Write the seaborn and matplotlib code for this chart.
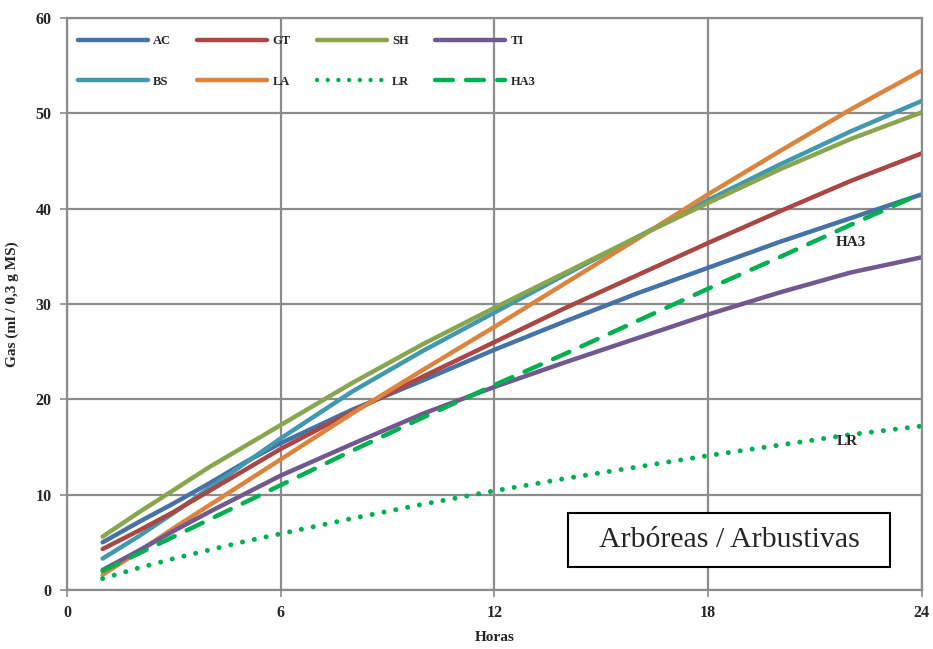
import matplotlib
matplotlib.use("Agg")
import matplotlib.pyplot as plt
import seaborn as sns
import pandas as pd
from matplotlib.patches import Rectangle

hours = [1, 2, 3, 4, 5, 6, 8, 10, 12, 14, 16, 18, 20, 22, 24]
AC = [5.0, 7.1, 9.1, 11.2, 13.4, 15.4, 18.9, 22.0, 25.2, 28.2, 31.1, 33.8, 36.5, 39.0, 41.5]
GT = [4.3, 6.2, 8.2, 10.4, 12.6, 14.8, 18.7, 22.4, 26.0, 29.6, 33.0, 36.4, 39.7, 42.9, 45.8]
SH = [5.6, 8.1, 10.5, 12.9, 15.1, 17.3, 21.7, 25.8, 29.6, 33.3, 37.0, 40.6, 44.1, 47.3, 50.1]
TI = [2.1, 4.1, 6.2, 8.2, 10.1, 12.0, 15.3, 18.5, 21.3, 23.9, 26.4, 28.9, 31.2, 33.3, 34.9]
BS = [3.3, 5.6, 8.1, 10.7, 13.3, 15.9, 20.8, 25.1, 29.1, 33.1, 37.0, 40.9, 44.6, 48.1, 51.3]
LA = [1.6, 4.0, 6.5, 8.9, 11.3, 13.7, 18.5, 23.1, 27.6, 32.2, 36.8, 41.5, 46.0, 50.4, 54.5]
LR = [1.2, 2.3, 3.3, 4.2, 5.1, 5.9, 7.5, 9.0, 10.4, 11.7, 12.9, 14.1, 15.2, 16.3, 17.2]
HA3 = [2.0, 3.8, 5.6, 7.4, 9.2, 11.0, 14.6, 18.1, 21.5, 24.8, 28.2, 31.6, 34.9, 38.3, 41.6]

# legend order fills column-wise with ncol=4
series_order = ["AC", "BS", "GT", "LA", "SH", "LR", "TI", "HA3"]
series = {"AC": AC, "GT": GT, "SH": SH, "TI": TI, "BS": BS, "LA": LA, "LR": LR, "HA3": HA3}
colors = {"AC": "#4572A7", "GT": "#AA4643", "SH": "#89A54E", "TI": "#71588F",
          "BS": "#4198AF", "LA": "#DB843D", "LR": "#00B050", "HA3": "#00B050"}
styles = {"LR": (0, (0.01, 2.4)), "HA3": (0, (4.0, 3.0))}

x_ticks = [0, 6, 12, 18, 24]
y_ticks = [0, 10, 20, 30, 40, 50, 60]

df = pd.concat([pd.DataFrame({"Horas": hours, "Gas": series[k], "serie": k}) for k in series_order],
               ignore_index=True)

sns.set_theme(style="white")
plt.rcParams['font.family'] = ['Liberation Serif', 'DejaVu Serif']

fig = plt.figure(figsize=(9.33, 6.49), dpi=100)
ax = fig.add_axes([0.0718, 0.0909, 0.9162, 0.8814])

for k in series_order:
    sub = df[df["serie"] == k]
    lw = 3.6 if k == "LR" else 3.2
    sns.lineplot(data=sub, x="Horas", y="Gas", ax=ax, color=colors[k], lw=lw,
                 label=k, linestyle=styles.get(k, "-"), dash_capstyle="round",
                 solid_capstyle="round", solid_joinstyle="round")

ax.set_xlim(0, 24)
ax.set_ylim(0, 60)
ax.set_xticks(x_ticks)
ax.set_yticks(y_ticks)
ax.grid(True, color="#8c8c8c", lw=1.6)
ax.set_axisbelow(True)
for s in ax.spines.values():
    s.set_color("#8c8c8c")
    s.set_linewidth(1.6)
ax.tick_params(axis="both", direction="out", length=5, width=1.2, color="#8c8c8c",
               labelsize=11.5, pad=6)
for lab in ax.get_xticklabels() + ax.get_yticklabels():
    lab.set_fontweight("bold")
ax.xaxis.set_ticks_position("bottom")
ax.yaxis.set_ticks_position("left")

ax.set_xlabel("Horas", fontsize=11, fontweight="bold", labelpad=7)
ax.set_ylabel("Gas (ml / 0,3 g MS)", fontsize=11, fontweight="bold", labelpad=12)

leg = ax.legend(loc="upper left", ncol=4, frameon=False, handlelength=5.6,
                handletextpad=0.4, columnspacing=2.1, labelspacing=2.3,
                prop={"weight": "bold", "size": 9}, bbox_to_anchor=(0.0, 0.99),
                borderaxespad=0.5)
for line in leg.get_lines():
    line.set_linewidth(3.2)

ax.text(22.0, 36.4, "HA3", fontsize=11, fontweight="bold", ha="center", va="center")
ax.text(21.9, 15.6, "LR", fontsize=11, fontweight="bold", ha="center", va="center")

ax.add_patch(Rectangle((0.586, 0.040), 0.377, 0.0944, transform=ax.transAxes,
                       facecolor="white", edgecolor="black", lw=1.5, zorder=5))
ax.text(0.7745, 0.087, "Arbóreas / Arbustivas", transform=ax.transAxes, fontsize=21.5,
        ha="center", va="center", zorder=6)

fig.savefig("out.png", dpi=100)
